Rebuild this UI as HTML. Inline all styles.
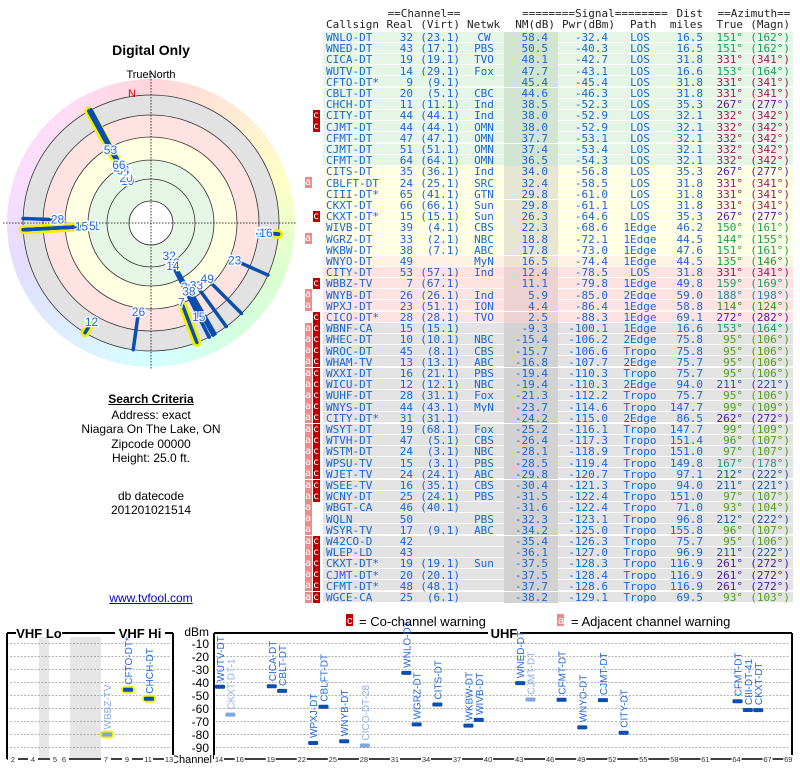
<!DOCTYPE html>
<html><head><meta charset="utf-8">
<style>
body{margin:0;width:800px;height:768px;background:#fff;position:relative;overflow:hidden;font-family:"Liberation Sans",sans-serif}
.abs{position:absolute}
.mono{font-family:"DejaVu Sans Mono","Liberation Mono",monospace;font-size:11px;white-space:pre;line-height:11px}
.lt{position:absolute;left:0;width:302px;text-align:center;font-size:12px;color:#000}
</style></head><body>
<div class="lt" style="top:42px;font-size:14px;font-weight:bold">Digital Only</div>
<svg id="polar" class="abs" style="left:0;top:60px" width="302" height="310"></svg>
<div class="lt" style="top:392px;font-weight:bold;text-decoration:underline">Search Criteria</div>
<div class="lt" style="top:408px;line-height:14.3px">Address: exact<br>Niagara On The Lake, ON<br>Zipcode 00000<br>Height: 25.0 ft.</div>
<div class="lt" style="top:489px;line-height:14px">db datecode<br>201201021514</div>
<div class="lt" style="top:591px;color:#00c;text-decoration:underline">www.tvfool.com</div>
<div id="table" class="abs mono" style="left:0;top:0;width:800px;height:610px"></div>
<svg id="bottom" class="abs" style="left:0;top:0" width="800" height="768"></svg>
<script>
const rows=[
["WNLO-DT","32","(23.1)","CW","58.4","-32.4","LOS","16.5",151,162,""],
["WNED-DT","43","(17.1)","PBS","50.5","-40.3","LOS","16.5",151,162,""],
["CICA-DT","19","(19.1)","TVO","48.1","-42.7","LOS","31.8",331,341,""],
["WUTV-DT","14","(29.1)","Fox","47.7","-43.1","LOS","16.6",153,164,""],
["CFTO-DT*","9","(9.1)","","45.4","-45.4","LOS","31.8",331,341,""],
["CBLT-DT","20","(5.1)","CBC","44.6","-46.3","LOS","31.8",331,341,""],
["CHCH-DT","11","(11.1)","Ind","38.5","-52.3","LOS","35.3",267,277,""],
["CITY-DT","44","(44.1)","Ind","38.0","-52.9","LOS","32.1",332,342,"c"],
["CJMT-DT","44","(44.1)","OMN","38.0","-52.9","LOS","32.1",332,342,"c"],
["CFMT-DT","47","(47.1)","OMN","37.7","-53.1","LOS","32.1",332,342,""],
["CJMT-DT","51","(51.1)","OMN","37.4","-53.4","LOS","32.1",332,342,""],
["CFMT-DT","64","(64.1)","OMN","36.5","-54.3","LOS","32.1",332,342,""],
["CITS-DT","35","(36.1)","Ind","34.0","-56.8","LOS","35.3",267,277,""],
["CBLFT-DT","24","(25.1)","SRC","32.4","-58.5","LOS","31.8",331,341,"a"],
["CIII-DT*","65","(41.1)","GTN","29.8","-61.0","LOS","31.8",331,341,""],
["CKXT-DT","66","(66.1)","Sun","29.8","-61.1","LOS","31.8",331,341,""],
["CKXT-DT*","15","(15.1)","Sun","26.3","-64.6","LOS","35.3",267,277,"c"],
["WIVB-DT","39","(4.1)","CBS","22.3","-68.6","1Edge","46.2",150,161,""],
["WGRZ-DT","33","(2.1)","NBC","18.8","-72.1","1Edge","44.5",144,155,"a"],
["WKBW-DT","38","(7.1)","ABC","17.8","-73.0","1Edge","47.6",151,161,""],
["WNYO-DT","49","","MyN","16.5","-74.4","1Edge","44.5",135,146,""],
["CITY-DT","53","(57.1)","Ind","12.4","-78.5","LOS","31.8",331,341,""],
["WBBZ-TV","7","(67.1)","","11.1","-79.8","1Edge","49.8",159,169,"c"],
["WNYB-DT","26","(26.1)","Ind","5.9","-85.0","2Edge","59.0",188,198,"a"],
["WPXJ-DT","23","(51.1)","ION","4.4","-86.4","1Edge","58.8",114,124,"a"],
["CICO-DT*","28","(28.1)","TVO","2.5","-88.3","1Edge","69.1",272,282,"c"],
["WBNF-CA","15","(15.1)","","-9.3","-100.1","1Edge","16.6",153,164,"ac"],
["WHEC-DT","10","(10.1)","NBC","-15.4","-106.2","2Edge","75.8",95,106,"ac"],
["WROC-DT","45","(8.1)","CBS","-15.7","-106.6","Tropo","75.8",95,106,"ac"],
["WHAM-TV","13","(13.1)","ABC","-16.8","-107.7","2Edge","75.7",95,106,"ac"],
["WXXI-DT","16","(21.1)","PBS","-19.4","-110.3","Tropo","75.7",95,106,"ac"],
["WICU-DT","12","(12.1)","NBC","-19.4","-110.3","2Edge","94.0",211,221,"ac"],
["WUHF-DT","28","(31.1)","Fox","-21.3","-112.2","Tropo","75.7",95,106,"ac"],
["WNYS-DT","44","(43.1)","MyN","-23.7","-114.6","Tropo","147.7",99,109,"ac"],
["CITY-DT*","31","(31.1)","","-24.2","-115.0","2Edge","86.5",262,272,"ac"],
["WSYT-DT","19","(68.1)","Fox","-25.2","-116.1","Tropo","147.7",99,109,"ac"],
["WTVH-DT","47","(5.1)","CBS","-26.4","-117.3","Tropo","151.4",96,107,"ac"],
["WSTM-DT","24","(3.1)","NBC","-28.1","-118.9","Tropo","151.0",97,107,"ac"],
["WPSU-TV","15","(3.1)","PBS","-28.5","-119.4","Tropo","149.8",167,178,"ac"],
["WJET-TV","24","(24.1)","ABC","-29.8","-120.7","Tropo","97.1",212,222,"ac"],
["WSEE-TV","16","(35.1)","CBS","-30.4","-121.3","Tropo","94.0",211,221,"ac"],
["WCNY-DT","25","(24.1)","PBS","-31.5","-122.4","Tropo","151.0",97,107,"ac"],
["WBGT-CA","46","(40.1)","","-31.6","-122.4","Tropo","71.0",93,104,"a"],
["WQLN","50","","PBS","-32.3","-123.1","Tropo","96.8",212,222,"a"],
["WSYR-TV","17","(9.1)","ABC","-34.2","-125.0","Tropo","155.8",96,107,"a"],
["W42CO-D","42","","","-35.4","-126.3","Tropo","75.7",95,106,"ac"],
["WLEP-LD","43","","","-36.1","-127.0","Tropo","96.9",211,222,"ac"],
["CKXT-DT*","19","(19.1)","Sun","-37.5","-128.3","Tropo","116.9",261,272,"ac"],
["CJMT-DT*","20","(20.1)","","-37.5","-128.4","Tropo","116.9",261,272,"ac"],
["CFMT-DT*","48","(48.1)","","-37.7","-128.6","Tropo","116.9",261,272,"ac"],
["WGCE-CA","25","(6.1)","","-38.2","-129.1","Tropo","69.5",93,103,"ac"]
];
const bandBg=["#e6f6e6","#ffffe2","#fff3e3","#ffe2e2","#e3e3e3"];
const bandNm=["#d2e4d2","#e6e6d2","#eee2d2","#ecd2d2","#d2d2d2"];
const bandOf=i=>i<12?0:i<20?1:i<21?2:i<26?3:4;
const T=document.getElementById('table');
function put(txt,x,y,align,color,name){
  const s=document.createElement('div');
  
  
  s.className='abs';s.textContent=txt;s.style.top=y+'px';s.style.color=color;
  if(align==='r'){s.style.right=(800-x)+'px'}else if(align==='c'){s.style.left=(x-60)+'px';s.style.width='120px';s.style.textAlign='center'}else{s.style.left=x+'px'}
  T.appendChild(s);return s;
}
const hc="#222";
put("==Channel==",424,8,'c',hc,'header-channel');
put("========Signal========",582,8,'c',hc,'header-signal');
put("Dist",703,8,'r',hc,'header-dist');
put("==Azimuth==",754,8,'c',hc,'header-azimuth');
[["Callsign",326,'l'],["Real",413,'r'],["(Virt)",460,'r'],["Netwk",467,'l'],["NM(dB)",555,'r'],["Pwr(dBm)",615,'r'],["Path",630,'l'],["miles",703,'r'],["True",743,'r'],["(Magn)",790,'r']].forEach(h=>put(h[0],h[1],19,h[2],hc,'header-'+h[0].replace(/[()]/g,'').toLowerCase()));
rows.forEach((r,i)=>{
  const y=31.5+i*11.2,b=bandOf(i);
  const bg=document.createElement('div');
  
  
  bg.className='abs';bg.style.cssText=`left:323px;top:${y}px;width:470px;height:10.2px;background:${bandBg[b]};border-bottom:1px solid #fafafa`;
  T.appendChild(bg);
  const nm=document.createElement('div');
  
  
  nm.className='abs';nm.style.cssText=`left:504px;top:${y}px;width:54px;height:11.2px;background:${bandNm[b]}`;
  T.appendChild(nm);
  const ty=y+0.5,bl="#1a66d6";
  put(r[0],326,ty,'l',bl,'callsign');
  put(r[1],413,ty,'r',bl,'channel-real');
  put(r[2],460,ty,'r',bl,'channel-virtual');
  put(r[3],484,ty,'c',bl,'network');
  put(r[4],548,ty,'r',bl,'noise-margin');
  put(r[5],608,ty,'r',bl,'power');
  put(r[6],640,ty,'c',bl,'path');
  put(r[7],703,ty,'r',bl,'distance');
  const ac=`hsl(${r[8]},72%,36%)`;
  put(r[8]+"°",743,ty,'r',ac,'azimuth-true');
  put("("+r[9]+"°)",790,ty,'r',ac,'azimuth-magnetic');
  if(r[10].includes('a')){const f=put("a",305,y,'l','#fff','adjacent-warning');f.style.background='#f08a8a';f.style.width='7px';f.style.height='11px';f.style.fontSize='10px';}
  if(r[10].includes('c')){const f=put("c",313,y,'l','#fff','cochannel-warning');f.style.background='#c00000';f.style.width='7px';f.style.height='11px';f.style.fontSize='10px';}
});

// polar
const NS="http://www.w3.org/2000/svg";
function el(p,tag,attrs){const e=document.createElementNS(NS,tag);for(const k in attrs)e.setAttribute(k,attrs[k]);p.appendChild(e);return e;}
const P=document.getElementById('polar');
const cx=151,cy=163;
const fo=el(P,'foreignObject',{x:cx-144,y:cy-144,width:288,height:288});


const ring=document.createElement('div');
ring.style.cssText="width:288px;height:288px;border-radius:50%;opacity:.55;background:conic-gradient(hsl(350,100%,85%),hsl(30,100%,85%),hsl(60,100%,80%),hsl(100,100%,82%),hsl(140,100%,85%),hsl(180,100%,85%),hsl(210,100%,88%),hsl(250,100%,88%),hsl(290,100%,88%),hsl(320,100%,88%),hsl(350,100%,85%))";
fo.appendChild(ring);
[[128,"#e2e2e2"],[108,"#ffe2e2"],[86,"#ffffe2"],[63,"#e6f6e6"],[22,"#ffffff"]].forEach(c=>{const e=el(P,'circle',{cx,cy,r:c[0],fill:c[1]});

});
[128,108,86,63,44,22].forEach(r=>{const e=el(P,'circle',{cx,cy,r,fill:'none',stroke:'#333','stroke-width':0.8});

});
let l1=el(P,'line',{x1:cx,y1:cy-150,x2:cx,y2:cy+147,stroke:'#000','stroke-dasharray':'1.5,1.5','stroke-width':0.8});


let l2=el(P,'line',{x1:cx-148,y1:cy,x2:cx+146,y2:cy,stroke:'#000','stroke-dasharray':'1.5,1.5','stroke-width':0.8});


let tn=el(P,'text',{x:cx,y:18,'text-anchor':'middle','font-size':11,fill:'#000'});tn.textContent='TrueNorth';


let nn=el(P,'text',{x:cx-19,y:37,'text-anchor':'middle','font-size':11,fill:'#e00000'});nn.textContent='N';


const rOf=nm=>Math.max(40,Math.min(124,100-nm));
const pt=(az,r)=>[cx+r*Math.sin(az*Math.PI/180),cy-r*Math.cos(az*Math.PI/180)];
const shown=rows.map((r,i)=>i).filter(i=>+rows[i][4]>=-20);
const order=shown.slice().reverse();
order.forEach(i=>{const r=rows[i],ch=+r[1];if(ch>=14)return;const a=pt(r[8],rOf(+r[4])),b=pt(r[8],128);
  const h=el(P,'line',{x1:a[0],y1:a[1],x2:b[0],y2:b[1],stroke:'#f0f000','stroke-width':9,'stroke-linecap':'round'});
  
  });
order.forEach(i=>{const r=rows[i];const a=pt(r[8],rOf(+r[4])),b=pt(r[8],128);
  const ln=el(P,'line',{x1:a[0],y1:a[1],x2:b[0],y2:b[1],stroke:'#0a4fb0','stroke-width':3.5,'stroke-linecap':'round'});
  
  });
shown.forEach(i=>{const r=rows[i];const p=pt(r[8],rOf(+r[4])-4);
  const t=el(P,'text',{x:p[0],y:p[1]+4,'text-anchor':'middle','font-size':12,fill:'#2268d8',stroke:'#fff','stroke-width':2.5,'paint-order':'stroke'});t.textContent=r[1];
  
  });

// bottom chart
const vhfNames=["WBBZ-TV","CFTO-DT*","CHCH-DT"];
const vhfCh=[7,9,11];
const vhfPwr=[-79.8,-45.4,-52.3];
const vhfFaded=[true,false,false];
const uhfNames=["WUTV-DT","CKXT-DT-1","CICA-DT","CBLT-DT","WPXJ-DT","CBLFT-DT","WNYB-DT","CICO-DT-28","WNLO-DT","WGRZ-DT","CITS-DT","WKBW-DT","WIVB-DT","WNED-DT","CJMT-DT","CFMT-DT","WNYO-DT","CJMT-DT","CITY-DT","CFMT-DT","CIII-DT-41","CKXT-DT"];
const uhfCh=[14,15,19,20,23,24,26,28,32,33,35,38,39,43,44,47,49,51,53,64,65,66];
const uhfPwr=[-43.1,-64.6,-42.7,-46.3,-86.4,-58.5,-85.0,-88.3,-32.4,-72.1,-56.8,-73.0,-68.6,-40.3,-52.9,-53.1,-74.4,-53.4,-78.5,-54.3,-61.0,-61.1];
const uhfFaded=[false,true,false,false,false,false,false,true,false,false,false,false,false,false,true,false,false,false,false,false,false,false];
const dbTicks=[-10,-20,-30,-40,-50,-60,-70,-80,-90];
const vhfTickCh=[2,4,5,6,7,9,11,13];
const uhfTickCh=[14,16,19,22,25,28,31,34,37,40,43,46,49,52,55,58,61,64,67,69];
const B=document.getElementById('bottom');
const yS=d=>643.7+(-10-d)*1.3;
const vhfPos={2:13,3:23,4:33,5:55,6:64,7:106,8:116,9:127,10:137,11:148,12:158,13:169};
const xV=c=>vhfPos[c];
const xU=c=>219+(c-14)*10.35;
[[39,10],[70,31]].forEach(g=>{const e=el(B,'rect',{x:g[0],y:637,width:g[1],height:121,fill:'#e6e6e6'});

});
dbTicks.forEach(d=>{
  const g1=el(B,'line',{x1:10,x2:171,y1:yS(d),y2:yS(d),stroke:'#888','stroke-dasharray':'2,1.5','stroke-width':0.6});
  
  
  const g2=el(B,'line',{x1:216,x2:790,y1:yS(d),y2:yS(d),stroke:'#888','stroke-dasharray':'2,1.5','stroke-width':0.6});
  
  
  const t=el(B,'text',{x:209,y:yS(d)+4.5,'text-anchor':'end','font-size':12,fill:'#000'});t.textContent=d;
  
  
});
let dbm=el(B,'text',{x:209,y:636,'text-anchor':'end','font-size':12});dbm.textContent='dBm';


let chl=el(B,'text',{x:212,y:763,'text-anchor':'end','font-size':11});chl.textContent='Channel';


const bx='#000';
[[7,633,7,759],[173,633,173,759],[7,633,16,633],[62,633,115,633],[165,633,173,633],[214,633,214,759],[792,633,792,759],[214,633,488,633],[520,633,792,633]].forEach(s=>{const e=el(B,'line',{x1:s[0],y1:s[1],x2:s[2],y2:s[3],stroke:bx,'stroke-width':2});

});
[["VHF Lo",39,'vhf-lo-title'],["VHF Hi",140,'vhf-hi-title'],["UHF",504,'uhf-title']].forEach(t=>{const e=el(B,'text',{x:t[1],y:638,'text-anchor':'middle','font-size':13,'font-weight':'bold'});e.textContent=t[0];

});
let ax1=el(B,'line',{x1:7,x2:173,y1:759,y2:759,stroke:'#000','stroke-width':1.5});


let ax2=el(B,'line',{x1:214,x2:792,y1:759,y2:759,stroke:'#000','stroke-width':1.5});


function tick(x,c){const r=el(B,'rect',{x:x-5,y:755,width:10,height:8,fill:'#fff'});
  
  
  const t=el(B,'text',{x,y:762,'text-anchor':'middle','font-size':7.5,fill:'#333'});t.textContent=c;
  
  }
vhfTickCh.forEach(c=>tick(xV(c),c));
uhfTickCh.forEach(c=>tick(xU(c),c));
function bar(x,d,name,faded,hi){
  const y=yS(d);
  if(hi){const h=el(B,'rect',{x:x-6,y:y-4,width:14,height:8,rx:4,fill:'#f0f000'});
    
    }
  const r=el(B,'rect',{x:x-4,y:y-2,width:10,height:4,rx:1,fill:faded?'#7ea6e0':'#0a4fb0'});
  
  
  const t=el(B,'text',{x:0,y:0,'font-size':10,fill:faded?'#8ab0e6':'#2268d8',transform:`translate(${x+5},${y-5}) rotate(-90)`});t.textContent=name;
  
  
}
vhfCh.forEach((c,i)=>bar(xV(c),vhfPwr[i],vhfNames[i],vhfFaded[i],true));
uhfCh.forEach((c,i)=>bar(xU(c),uhfPwr[i],uhfNames[i],uhfFaded[i],false));
let lc=el(B,'rect',{x:346,y:614,width:7,height:12,fill:'#c00000'});


let lct=el(B,'text',{x:347,y:624,'font-size':11,fill:'#fff'});lct.textContent='c';


let lt1=el(B,'text',{x:359,y:626,'font-size':13});lt1.textContent='= Co-channel warning';


let la=el(B,'rect',{x:557,y:614,width:7,height:12,fill:'#f08a8a'});


let lat=el(B,'text',{x:558,y:624,'font-size':11,fill:'#fff'});lat.textContent='a';


let lt2=el(B,'text',{x:571,y:626,'font-size':13});lt2.textContent='= Adjacent channel warning';


</script>
</body></html>
